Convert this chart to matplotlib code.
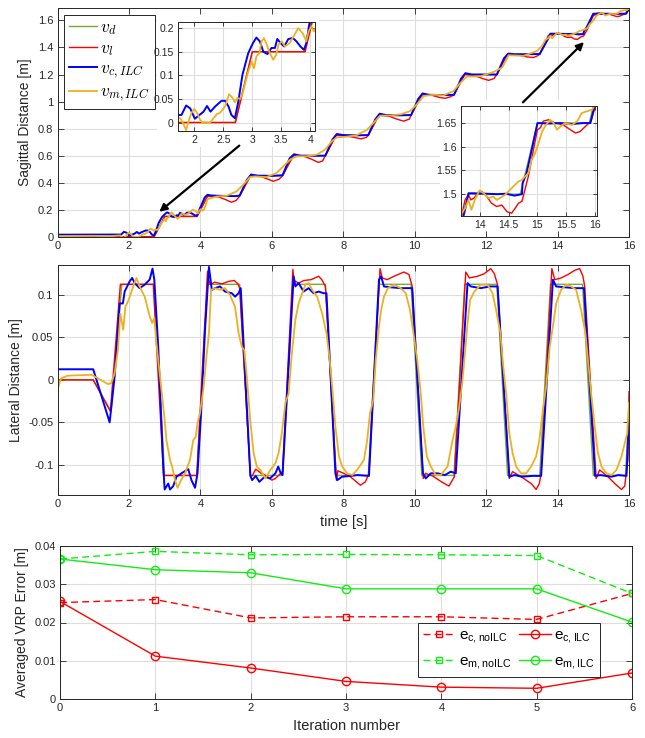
import matplotlib
matplotlib.use("Agg")
import matplotlib.pyplot as plt
from matplotlib.ticker import FuncFormatter
from matplotlib.patches import Rectangle
from matplotlib.font_manager import FontProperties

plt.rcParams['font.family'] = ['Liberation Sans', 'DejaVu Sans']
plt.rcParams['axes.unicode_minus'] = False

# ---------------- data: sagittal ----------------
sag_d_t = [0, 2.7, 3.0, 3.9, 4.2, 5.1, 5.4, 6.3, 6.6, 7.5, 7.8, 8.7, 9.0, 9.9, 10.2, 11.1,
           11.4, 12.3, 12.6, 13.5, 13.8, 14.7, 15.0, 15.9, 16.0]
sag_d_v = [0, 0, 0.15, 0.15, 0.3, 0.3, 0.45, 0.45, 0.6, 0.6, 0.75, 0.75, 0.9, 0.9, 1.05, 1.05,
           1.2, 1.2, 1.35, 1.35, 1.5, 1.5, 1.65, 1.65, 1.70]

sag_l_t = [0, 2.71, 3.0, 3.91, 4.2, 4.5, 4.7, 4.87, 5.0, 5.1, 5.4, 5.7, 5.9, 6.04, 6.2, 6.3,
           6.6, 6.9, 7.1, 7.3, 7.42, 7.5, 7.8, 8.1, 8.3, 8.5, 8.65, 8.7, 9.0, 9.3, 9.5, 9.69,
           9.85, 9.9, 10.2, 10.5, 10.7, 10.85, 11.0, 11.1, 11.4, 11.7, 11.9, 12.07, 12.22, 12.3,
           12.6, 12.9, 13.15, 13.33, 13.45, 13.5, 13.74, 13.8, 13.84, 13.9, 13.97, 14.03, 14.12,
           14.2, 14.29, 14.38, 14.47, 14.55, 14.61, 14.67, 14.73, 14.84, 14.93, 15.0, 15.05,
           15.1, 15.19, 15.31, 15.45, 15.57, 15.66, 15.74, 15.86, 15.93, 15.99, 16.0]
sag_l_v = [0, 0, 0.15, 0.15, 0.3, 0.295, 0.275, 0.255, 0.268, 0.3, 0.45, 0.445, 0.425, 0.41,
           0.425, 0.45, 0.6, 0.595, 0.575, 0.55, 0.56, 0.6, 0.75, 0.745, 0.735, 0.724, 0.735,
           0.75, 0.9, 0.89, 0.87, 0.855, 0.87, 0.9, 1.05, 1.045, 1.03, 1.024, 1.035, 1.05, 1.2,
           1.19, 1.17, 1.157, 1.17, 1.2, 1.35, 1.345, 1.33, 1.326, 1.34, 1.35, 1.488, 1.499,
           1.488, 1.492, 1.504, 1.506, 1.495, 1.481, 1.474, 1.477, 1.463, 1.46, 1.47, 1.481,
           1.485, 1.537, 1.594, 1.636, 1.64, 1.654, 1.657, 1.65, 1.646, 1.636, 1.629, 1.632,
           1.646, 1.654, 1.678, 1.685]

sag_c_t = [0, 1.71, 1.78, 1.86, 1.93, 2.01, 2.09, 2.16, 2.22, 2.28, 2.36, 2.47, 2.53, 2.59,
           2.64, 2.70, 2.76, 2.83, 2.93, 3.01, 3.07, 3.13, 3.19, 3.26, 3.33, 3.39, 3.43, 3.49,
           3.55, 3.62, 3.7, 3.76, 3.83, 3.89, 3.93, 3.98, 4.02, 4.12, 4.2, 4.3, 4.6, 5.0, 5.1,
           5.3, 5.42, 5.6, 6.0, 6.3, 6.5, 6.62, 6.8, 7.2, 7.5, 7.7, 7.82, 8.0, 8.4, 8.7, 8.9,
           9.02, 9.2, 9.6, 9.9, 10.1, 10.22, 10.4, 10.8, 11.1, 11.3, 11.42, 11.6, 12.0, 12.3,
           12.5, 12.62, 12.8, 13.2, 13.5, 13.74, 13.8, 13.88, 14.1, 14.3, 14.45, 14.6, 14.73,
           14.74, 14.81, 14.9, 15.0, 15.2, 15.4, 15.6, 15.8, 15.92, 15.99, 16.0]
sag_c_v = [0.015, 0.016, 0.016, 0.036, 0.03, 0.008, 0.016, 0.023, 0.035, 0.023, 0.034, 0.046,
           0.046, 0.034, 0.016, 0.009, 0.045, 0.101, 0.147, 0.168, 0.18, 0.172, 0.15, 0.145,
           0.158, 0.158, 0.177, 0.168, 0.161, 0.177, 0.179, 0.172, 0.161, 0.154, 0.168, 0.207,
           0.228, 0.29, 0.31, 0.305, 0.302, 0.3, 0.305, 0.42, 0.46, 0.452, 0.45, 0.455, 0.58,
           0.61, 0.6, 0.598, 0.6, 0.72, 0.76, 0.752, 0.75, 0.752, 0.87, 0.91, 0.9, 0.898, 0.9,
           1.02, 1.06, 1.05, 1.048, 1.05, 1.17, 1.21, 1.2, 1.2, 1.2, 1.32, 1.355, 1.35, 1.35,
           1.352, 1.467, 1.502, 1.502, 1.501, 1.5, 1.501, 1.497, 1.5, 1.523, 1.544, 1.594, 1.65,
           1.649, 1.65, 1.648, 1.65, 1.65, 1.685, 1.69]

sag_m_t = [0, 1.0, 1.5, 1.71, 1.76, 1.82, 1.86, 1.9, 1.95, 2.0, 2.05, 2.1, 2.14, 2.27, 2.33,
           2.39, 2.44, 2.53, 2.6, 2.66, 2.7, 2.74, 2.79, 2.83, 2.87, 2.93, 2.99, 3.03, 3.07,
           3.12, 3.16, 3.2, 3.25, 3.3, 3.36, 3.41, 3.45, 3.51, 3.56, 3.64, 3.71, 3.79, 3.87,
           3.93, 3.97, 4.02, 4.06, 4.11, 4.2, 4.45, 4.73, 5.01, 5.2, 5.39, 5.53, 5.85, 6.13,
           6.32, 6.51, 6.7, 6.98, 7.26, 7.49, 7.68, 7.82, 8.1, 8.38, 8.66, 8.85, 9.03, 9.31,
           9.6, 9.87, 10.06, 10.25, 10.53, 10.81, 11.09, 11.25, 11.46, 11.84, 12.21, 12.45,
           12.63, 13.05, 13.43, 13.56, 13.66, 13.74, 13.8, 13.85, 13.91, 13.99, 14.06, 14.15,
           14.23, 14.29, 14.35, 14.44, 14.52, 14.61, 14.67, 14.73, 14.78, 14.84, 14.9, 14.96,
           15.02, 15.08, 15.13, 15.22, 15.28, 15.34, 15.4, 15.48, 15.6, 15.69, 15.77, 15.86,
           15.95, 16.0]
sag_m_v = [0.004, 0.006, 0.004, 0.009, 0.009, -0.005, -0.016, 0.002, 0.02, 0.029, 0.02, 0.006,
           -0.001, -0.001, 0.009, 0.018, 0.02, 0.034, 0.06, 0.052, 0.043, 0.052, 0.05, 0.06,
           0.08, 0.108, 0.129, 0.115, 0.14, 0.147, 0.172, 0.179, 0.165, 0.147, 0.133, 0.143,
           0.165, 0.172, 0.161, 0.168, 0.182, 0.2, 0.189, 0.172, 0.193, 0.204, 0.193, 0.204,
           0.278, 0.297, 0.302, 0.335, 0.384, 0.441, 0.446, 0.441, 0.471, 0.52, 0.57, 0.595,
           0.595, 0.607, 0.644, 0.706, 0.735, 0.74, 0.752, 0.79, 0.843, 0.895, 0.897, 0.905,
           0.929, 0.979, 1.041, 1.05, 1.046, 1.078, 1.13, 1.185, 1.187, 1.219, 1.252, 1.343,
           1.338, 1.375, 1.41, 1.456, 1.47, 1.488, 1.467, 1.488, 1.508, 1.502, 1.492, 1.495,
           1.488, 1.492, 1.499, 1.509, 1.52, 1.527, 1.53, 1.537, 1.544, 1.573, 1.587, 1.608,
           1.632, 1.643, 1.657, 1.65, 1.636, 1.643, 1.65, 1.646, 1.654, 1.671, 1.675, 1.678,
           1.689]

# ---------------- data: lateral ----------------
lat_d_t = [0, 1.0, 1.5, 1.8, 2.7, 3.0, 3.9, 4.2, 5.1, 5.4, 6.3, 6.6, 7.5, 7.8, 8.7, 9.0, 9.9,
           10.2, 11.1, 11.4, 12.3, 12.6, 13.5, 13.8, 14.7, 15.0, 15.9, 16.0]
lat_d_v = [0, 0, -0.037, 0.1125, 0.1125, -0.1125, -0.1125, 0.1125, 0.1125, -0.1125, -0.1125,
           0.1125, 0.1125, -0.1125, -0.1125, 0.1125, 0.1125, -0.1125, -0.1125, 0.1125, 0.1125,
           -0.1125, -0.1125, 0.1125, 0.1125, -0.1125, -0.1125, -0.0375]

lat_l_t = [0, 1.0, 1.48, 1.76, 2.68, 2.97, 3.9, 4.2, 4.23, 4.28, 4.4, 4.6, 4.8, 4.95, 5.05,
           5.1, 5.4, 5.45, 5.55, 5.7, 5.85, 6.0, 6.1, 6.25, 6.3, 6.59, 6.62, 6.75, 6.9, 7.1,
           7.31, 7.4, 7.5, 7.81, 7.85, 8.01, 8.2, 8.48, 8.62, 8.72, 9.03, 9.09, 9.23, 9.42, 9.70,
           9.84, 9.93, 10.24, 10.3, 10.5, 10.75, 10.96, 11.11, 11.43, 11.53, 11.76, 11.95,
           12.13, 12.23, 12.32, 12.65, 12.74, 12.98, 13.26, 13.40, 13.49, 13.54, 13.84, 13.92,
           14.1, 14.29, 14.48, 14.62, 14.71, 14.76, 15.08, 15.18, 15.41, 15.60, 15.79, 15.88,
           15.97, 16.0]
lat_l_v = [0, 0, -0.037, 0.1125, 0.1125, -0.1125, -0.1125, 0.128, 0.118, 0.112, 0.115, 0.113,
           0.116, 0.117, 0.113, 0.108, -0.113, -0.113, -0.105, -0.11, -0.113, -0.118, -0.116,
           -0.11, -0.108, 0.130, 0.117, 0.114, 0.117, 0.118, 0.122, 0.118, 0.11, -0.118, -0.107,
           -0.11, -0.114, -0.124, -0.12, -0.11, 0.131, 0.12, 0.118, 0.122, 0.127, 0.124, 0.11,
           -0.116, -0.11, -0.113, -0.12, -0.125, -0.114, 0.127, 0.12, 0.122, 0.125, 0.131,
           0.125, 0.112, -0.116, -0.108, -0.114, -0.122, -0.129, -0.122, -0.11, 0.131, 0.118,
           0.12, 0.124, 0.129, 0.131, 0.122, 0.11, -0.116, -0.106, -0.114, -0.122, -0.129,
           -0.125, -0.094, -0.014]

lat_c_t = [0, 1.0, 1.46, 1.6, 1.74, 1.83, 1.88, 2.02, 2.09, 2.16, 2.30, 2.44, 2.58, 2.66,
           2.71, 2.82, 2.96, 3.0, 3.1, 3.15, 3.24, 3.33, 3.47, 3.66, 3.75, 3.85, 3.92, 4.02,
           4.13, 4.24, 4.32, 4.41, 4.55, 4.69, 4.88, 4.97, 5.07, 5.13, 5.4, 5.45, 5.55, 5.65,
           5.8, 5.95, 6.1, 6.18, 6.25, 6.3, 6.61, 6.66, 6.75, 6.89, 7.03, 7.17, 7.31, 7.45,
           7.53, 7.78, 7.83, 7.97, 8.2, 8.4, 8.72, 9.0, 9.06, 9.14, 9.33, 9.61, 9.93, 10.23,
           10.31, 10.45, 10.64, 10.85, 11.01, 11.15, 11.48, 11.57, 11.85, 12.1, 12.32, 12.65,
           12.8, 13.0, 13.3, 13.54, 13.87, 13.96, 14.2, 14.5, 14.74, 15.05, 15.2, 15.5, 15.7,
           15.93, 16.0]
lat_c_v = [0.0125, 0.0125, -0.05, 0.004, 0.09, 0.09, 0.104, 0.116, 0.12, 0.114, 0.108, 0.112,
           0.118, 0.131, 0.118, 0.039, -0.102, -0.129, -0.122, -0.129, -0.125, -0.114, -0.11,
           -0.105, -0.118, -0.127, -0.11, -0.039, 0.059, 0.133, 0.106, 0.108, 0.11, 0.104,
           0.102, 0.098, 0.102, 0.108, -0.113, -0.118, -0.113, -0.12, -0.114, -0.116, -0.11,
           -0.102, -0.11, -0.112, 0.122, 0.11, 0.114, 0.104, 0.108, 0.102, 0.104, 0.102, 0.102,
           -0.11, -0.118, -0.114, -0.113, -0.112, -0.113, 0.118, 0.122, 0.11, 0.109, 0.108,
           0.108, -0.11, -0.116, -0.11, -0.11, -0.112, -0.108, -0.11, 0.114, 0.11, 0.108, 0.11,
           0.11, -0.114, -0.112, -0.114, -0.113, -0.113, 0.118, 0.11, 0.109, 0.108, 0.108,
           -0.113, -0.112, -0.114, -0.112, -0.113, -0.043]

lat_m_t = [0, 0.1, 0.29, 0.95, 1.13, 1.41, 1.5, 1.6, 1.69, 1.76, 1.84, 1.9, 1.99, 2.12, 2.21,
           2.3, 2.44, 2.58, 2.65, 2.71, 2.77, 2.87, 2.96, 3.0, 3.05, 3.15, 3.21, 3.29, 3.36,
           3.46, 3.57, 3.71, 3.80, 3.87, 3.92, 3.99, 4.08, 4.18, 4.24, 4.30, 4.41, 4.55, 4.69,
           4.83, 4.97, 5.07, 5.16, 5.23, 5.3, 5.39, 5.49, 5.58, 5.68, 5.82, 5.96, 6.1, 6.19,
           6.28, 6.38, 6.47, 6.56, 6.66, 6.75, 6.85, 6.94, 7.03, 7.13, 7.27, 7.41, 7.53, 7.62,
           7.69, 7.78, 7.88, 7.97, 8.11, 8.25, 8.39, 8.58, 8.67, 8.75, 8.84, 8.91, 9.0, 9.06,
           9.14, 9.25, 9.42, 9.61, 9.75, 9.87, 9.98, 10.07, 10.17, 10.24, 10.34, 10.45, 10.59,
           10.73, 10.92, 11.06, 11.15, 11.25, 11.34, 11.43, 11.48, 11.55, 11.67, 11.85, 12.04,
           12.18, 12.28, 12.4, 12.46, 12.56, 12.65, 12.74, 12.84, 12.98, 13.12, 13.26, 13.4,
           13.49, 13.59, 13.68, 13.78, 13.87, 13.96, 14.1, 14.24, 14.38, 14.52, 14.66, 14.78,
           14.85, 14.94, 15.04, 15.13, 15.23, 15.37, 15.51, 15.65, 15.79, 15.88, 15.95, 16.0]
lat_m_v = [-0.012, 0.002, 0.005, 0.006, 0.002, -0.005, -0.004, 0.008, 0.035, 0.078, 0.059,
           0.086, 0.094, 0.11, 0.12, 0.11, 0.098, 0.075, 0.067, 0.073, 0.043, 0.004, -0.031,
           -0.047, -0.071, -0.094, -0.102, -0.118, -0.127, -0.118, -0.11, -0.094, -0.071,
           -0.067, -0.051, -0.039, -0.012, 0.031, 0.055, 0.106, 0.108, 0.106, 0.108, 0.1, 0.086,
           0.055, 0.039, 0.035, 0.004, -0.045, -0.086, -0.102, -0.106, -0.116, -0.106, -0.098,
           -0.086, -0.063, -0.027, -0.016, 0.031, 0.071, 0.09, 0.102, 0.112, 0.114, 0.106,
           0.098, 0.078, 0.055, 0.024, -0.008, -0.055, -0.09, -0.102, -0.11, -0.112, -0.106,
           -0.094, -0.071, -0.039, -0.024, 0.024, 0.063, 0.082, 0.098, 0.108, 0.112, 0.108,
           0.102, 0.082, 0.051, 0.024, -0.016, -0.055, -0.09, -0.102, -0.112, -0.112, -0.102,
           -0.071, -0.055, -0.031, 0.0, 0.043, 0.067, 0.094, 0.104, 0.112, 0.112, 0.102, 0.082,
           0.055, 0.024, -0.016, -0.063, -0.086, -0.102, -0.11, -0.11, -0.102, -0.09, -0.071,
           -0.035, -0.008, 0.039, 0.063, 0.09, 0.106, 0.112, 0.11, 0.106, 0.082, 0.055, 0.024,
           -0.016, -0.055, -0.086, -0.102, -0.11, -0.112, -0.106, -0.09, -0.075, -0.063, -0.027]

# ---------------- data: VRP error ----------------
iterations = [0, 1, 2, 3, 4, 5, 6]
e_c_noilc = [0.0252, 0.0260, 0.0212, 0.0215, 0.0215, 0.0208, 0.0276]
e_c_ilc = [0.0255, 0.0112, 0.0081, 0.0046, 0.0031, 0.0028, 0.0068]
e_m_noilc = [0.0366, 0.0386, 0.0377, 0.0378, 0.0377, 0.0375, 0.0276]
e_m_ilc = [0.0366, 0.0338, 0.0330, 0.0288, 0.0288, 0.0288, 0.0201]

time_ticks = [0, 2, 4, 6, 8, 10, 12, 14, 16]
sag_yticks = [0, 0.2, 0.4, 0.6, 0.8, 1.0, 1.2, 1.4, 1.6]
lat_yticks = [-0.1, -0.05, 0, 0.05, 0.1]
err_yticks = [0, 0.01, 0.02, 0.03, 0.04]
inset1_xticks = [2, 2.5, 3, 3.5, 4]
inset1_yticks = [0, 0.05, 0.1, 0.15, 0.2]
inset2_xticks = [14, 14.5, 15, 15.5, 16]
inset2_yticks = [1.5, 1.55, 1.6, 1.65]

# ---------------- style ----------------
C_D = '#77AC30'
C_L = '#FF0000'
C_C = '#0000FF'
C_M = '#EDB120'
C_G = '#11EE11'
TXT = '#262626'
GRID = '#dedede'
fmt = FuncFormatter(lambda v, p: '%g' % round(v, 6))


def style(ax, fs=8):
    ax.tick_params(direction='in', length=4, width=0.6, top=True, right=True,
                   labelsize=fs, colors=TXT, pad=3)
    for s in ax.spines.values():
        s.set_color(TXT)
        s.set_linewidth(0.7)
    ax.xaxis.set_major_formatter(fmt)
    ax.yaxis.set_major_formatter(fmt)


def plot_series(ax, lw_scale=1.0):
    hs = []
    hs += ax.plot(sag_d_t, sag_d_v, color=C_D, lw=1.0 * lw_scale)
    hs += ax.plot(sag_l_t, sag_l_v, color=C_L, lw=1.0 * lw_scale)
    hs += ax.plot(sag_c_t, sag_c_v, color=C_C, lw=1.4 * lw_scale)
    hs += ax.plot(sag_m_t, sag_m_v, color=C_M, lw=1.3 * lw_scale)
    return hs


fig = plt.figure(figsize=(6.45, 7.38), dpi=100)

# ---------- top: sagittal ----------
ax1 = fig.add_axes([57.5 / 645, 1 - 236.7 / 738, 571.5 / 645, 228.4 / 738])
style(ax1)
ax1.set_axisbelow(True)
for x in time_ticks:
    ax1.axvline(x, color=GRID, lw=0.8, zorder=0.1)
for y in sag_yticks:
    ax1.axhline(y, color=GRID, lw=0.8, zorder=0.1)
ax1.add_patch(Rectangle((0.174, 0.393), 0.284, 0.604, transform=ax1.transAxes,
                        facecolor='white', edgecolor='none', zorder=0.3))
ax1.add_patch(Rectangle((0.669, 0.012), 0.319, 0.587, transform=ax1.transAxes,
                        facecolor='white', edgecolor='none', zorder=0.3))
h = plot_series(ax1)
ax1.set_xlim(0, 16)
ax1.set_ylim(0, 1.69)
ax1.set_xticks(time_ticks)
ax1.set_yticks(sag_yticks)
ax1.set_ylabel('Sagittal Distance [m]', fontsize=10, color=TXT)
leg = ax1.legend(h, [r'$v_d$', r'$v_l$', r'$v_{c,ILC}$', r'$v_{m,ILC}$'],
                 loc='upper left', bbox_to_anchor=(0.011, 0.971), borderaxespad=0,
                 prop=FontProperties(size=12.5, math_fontfamily='cm'),
                 fancybox=False, framealpha=1, edgecolor=TXT, handlelength=1.6,
                 labelspacing=0.2, borderpad=0.3, handletextpad=0.2)
leg.get_frame().set_linewidth(0.7)
leg.set_zorder(5)
ax1.annotate('', xy=(2.85, 0.184), xytext=(5.09, 0.674),
             arrowprops=dict(arrowstyle='-|>', color='k', lw=1.6, mutation_scale=11,
                             shrinkA=0, shrinkB=0), zorder=4)
ax1.annotate('', xy=(14.74, 1.44), xytext=(13.03, 0.994),
             arrowprops=dict(arrowstyle='-|>', color='k', lw=1.6, mutation_scale=11,
                             shrinkA=0, shrinkB=0), zorder=4)

# insets
ins1 = fig.add_axes([178 / 645, 1 - 131 / 738, 137 / 645, 109 / 738])
style(ins1, fs=7.5)
ins1.tick_params(length=3)
ins1.grid(True, color=GRID, lw=0.8)
ins1.set_axisbelow(True)
plot_series(ins1)
ins1.set_xlim(1.72, 4.08)
ins1.set_ylim(-0.018, 0.213)
ins1.set_xticks(inset1_xticks)
ins1.set_yticks(inset1_yticks)

ins2 = fig.add_axes([461 / 645, 1 - 216 / 738, 136 / 645, 110 / 738])
style(ins2, fs=7.5)
ins2.tick_params(length=3)
ins2.grid(True, color=GRID, lw=0.8)
ins2.set_axisbelow(True)
plot_series(ins2)
ins2.set_xlim(13.67, 16.035)
ins2.set_ylim(1.454, 1.686)
ins2.set_xticks(inset2_xticks)
ins2.set_yticks(inset2_yticks)

# ---------- middle: lateral ----------
ax2 = fig.add_axes([57.5 / 645, 1 - 495 / 738, 571.5 / 645, 230.3 / 738])
style(ax2)
ax2.grid(True, color=GRID, lw=0.8)
ax2.set_axisbelow(True)
ax2.plot(lat_d_t, lat_d_v, color=C_D, lw=1.0)
ax2.plot(lat_l_t, lat_l_v, color=C_L, lw=1.0)
ax2.plot(lat_c_t, lat_c_v, color=C_C, lw=1.4)
ax2.plot(lat_m_t, lat_m_v, color=C_M, lw=1.3)
ax2.set_xlim(0, 16)
ax2.set_ylim(-0.1355, 0.1356)
ax2.set_xticks(time_ticks)
ax2.set_yticks(lat_yticks)
ax2.set_ylabel('Lateral Distance [m]', fontsize=10, color=TXT)
ax2.set_xlabel('time [s]', fontsize=10.5, color=TXT, labelpad=4)

# ---------- bottom: VRP error ----------
ax3 = fig.add_axes([60 / 645, 1 - 699 / 738, 572 / 645, 153 / 738])
style(ax3)
ax3.grid(True, color=GRID, lw=0.8)
ax3.set_axisbelow(True)
l1, = ax3.plot(iterations, e_c_noilc, color=C_L, ls='--', lw=1.0, marker='s', ms=5,
               mfc='none', mew=1.0, dashes=(5, 3))
l2, = ax3.plot(iterations, e_c_ilc, color=C_L, ls='-', lw=1.0, marker='o', ms=6,
               mfc='none', mew=1.0)
l3, = ax3.plot(iterations, e_m_noilc, color=C_G, ls='--', lw=1.0, marker='s', ms=5,
               mfc='none', mew=1.0, dashes=(5, 3))
l4, = ax3.plot(iterations, e_m_ilc, color=C_G, ls='-', lw=1.0, marker='o', ms=6,
               mfc='none', mew=1.0)
ax3.set_xlim(0, 6)
ax3.set_ylim(0, 0.04)
ax3.set_xticks(iterations)
ax3.set_yticks(err_yticks)
ax3.set_ylabel('Averaged VRP Error [m]', fontsize=10, color=TXT)
ax3.set_xlabel('Iteration number', fontsize=10.5, color=TXT, labelpad=4)
leg2 = ax3.legend([l1, l3, l2, l4],
                  [r'$\mathregular{e_{c,noILC}}$', r'$\mathregular{e_{m,noILC}}$',
                   r'$\mathregular{e_{c,ILC}}$', r'$\mathregular{e_{m,ILC}}$'],
                  ncol=2, loc='upper left', bbox_to_anchor=(0.626, 0.497), borderaxespad=0,
                  fontsize=11, fancybox=False, framealpha=1, edgecolor=TXT,
                  handlelength=2.1, labelspacing=0.6, borderpad=0.35, handletextpad=0.2,
                  columnspacing=0.5)
leg2.get_frame().set_linewidth(0.7)

fig.savefig('out.png', dpi=100)
